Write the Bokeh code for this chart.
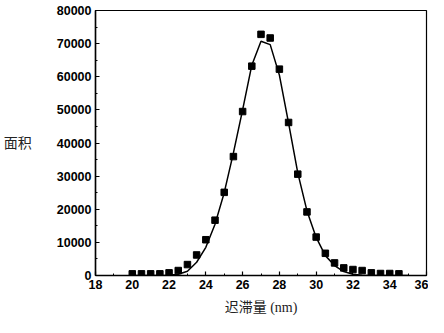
from bokeh.plotting import figure
from bokeh.embed import file_html
from bokeh.resources import INLINE
from bokeh.models import FixedTicker, Range1d

# scatter data (measured)
x_pts = [20, 20.5, 21, 21.5, 22, 22.5, 23, 23.5, 24, 24.5, 25, 25.5, 26, 26.5, 27, 27.5,
         28, 28.5, 29, 29.5, 30, 30.5, 31, 31.5, 32, 32.5, 33, 33.5, 34, 34.5]
y_pts = [500, 500, 500, 500, 800, 1500, 3300, 6200, 10800, 16700, 25100, 35900, 49500, 63200,
         72800, 71700, 62300, 46200, 30600, 19200, 11600, 6700, 3800, 2300, 1800, 1500, 800,
         600, 600, 500]

# fitted curve
x_fit = [20, 20.5, 21, 21.5, 22, 22.5, 23, 23.5, 24, 24.5, 25, 25.5, 26, 26.5, 27, 27.5,
         28, 28.5, 29, 29.5, 30, 30.5, 31, 31.5, 32, 32.5, 33, 33.5, 34, 34.5, 35]
y_fit = [0, 0, 0, 0, 100, 400, 1300, 4000, 8500, 15500, 25000, 37000, 50000, 63500,
         70700, 69700, 60500, 46000, 31000, 19500, 11500, 6000, 3000, 1200, 400, 100, 0,
         0, 0, 0, 0]

x_ticks = [18, 20, 22, 24, 26, 28, 30, 32, 34, 36]
y_ticks = [0, 10000, 20000, 30000, 40000, 50000, 60000, 70000, 80000]

p = figure(width=428, height=317, output_backend="svg", toolbar_location=None,
           x_range=Range1d(18, 36), y_range=Range1d(0, 80000),
           min_border_left=10, min_border_right=2, min_border_top=10, min_border_bottom=2)

p.line(x_fit, y_fit, line_color="black", line_width=1.5)
p.scatter(x_pts, y_pts, marker="square", size=6.5, fill_color="black", line_color="black")

p.grid.visible = False
p.outline_line_color = "black"
p.outline_line_width = 1.2

for ax in (p.xaxis[0], p.yaxis[0]):
    ax.major_tick_in = 4
    ax.major_tick_out = 0
    ax.minor_tick_in = 2
    ax.minor_tick_out = 0
    ax.axis_line_width = 1.5
    ax.major_tick_line_width = 1.2
    ax.major_label_text_font = "Liberation Sans"
    ax.major_label_text_font_style = "bold"
    ax.major_label_text_font_size = "12.5px"
    ax.major_label_text_color = "black"
    ax.axis_label_text_font = "'Liberation Serif', 'Noto Sans CJK SC'"
    ax.axis_label_text_font_style = "normal"
    ax.axis_label_text_font_size = "14px"
    ax.axis_label_text_color = "#222222"

p.xaxis[0].ticker = FixedTicker(ticks=x_ticks, minor_ticks=list(range(18, 37)))
p.yaxis[0].ticker = FixedTicker(ticks=y_ticks, minor_ticks=list(range(0, 80001, 5000)))
p.xaxis[0].major_label_standoff = 4
p.yaxis[0].major_label_standoff = 4

p.xaxis[0].axis_label = "迟滞量 (nm)"
p.yaxis[0].axis_label = "面积"
p.yaxis[0].axis_label_orientation = "horizontal"
p.yaxis[0].axis_label_standoff = 22
p.xaxis[0].axis_label_standoff = 8

open("out.html", "w").write(file_html(p, INLINE))
